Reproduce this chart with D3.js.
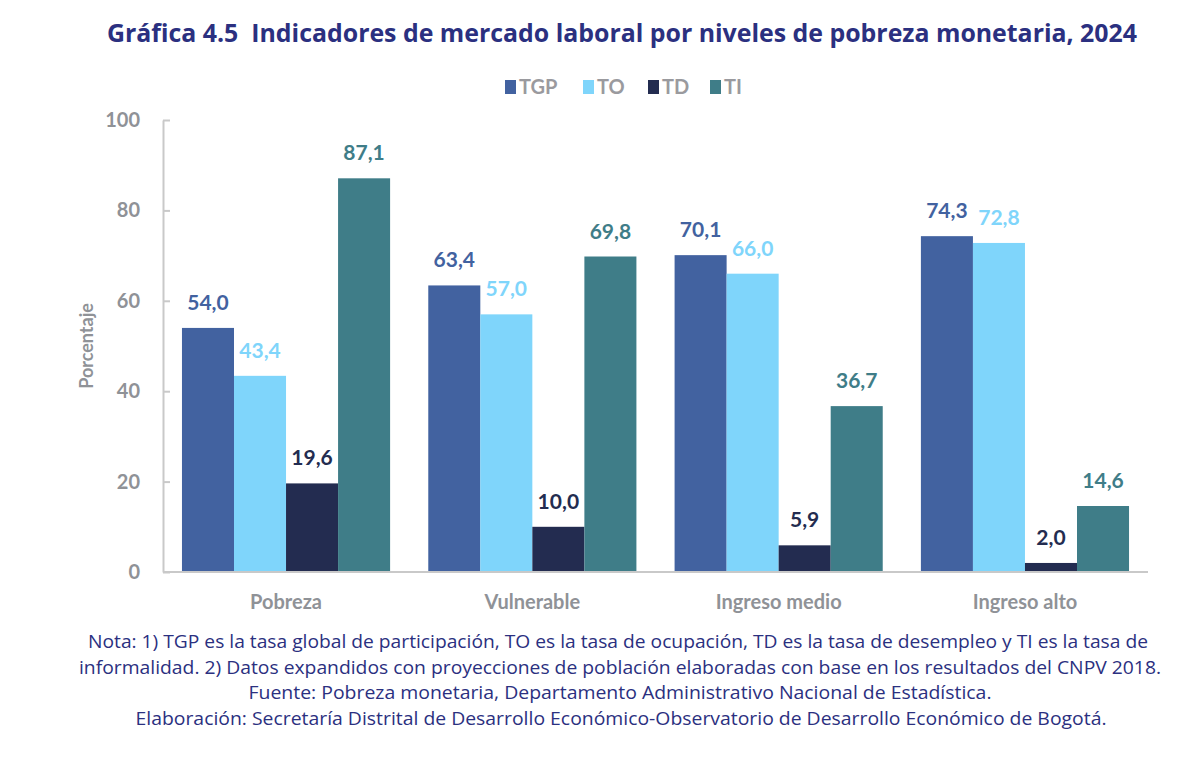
<!DOCTYPE html>
<html>
<head>
<meta charset="utf-8">
<script src="https://cdn.jsdelivr.net/npm/d3@7"></script>
<style>
  body { margin: 0; background: #fff; }
  svg { display: block; }
</style>
</head>
<body>
<div id="chart"></div>
<script>
// data
const categories = ["Pobreza", "Vulnerable", "Ingreso medio", "Ingreso alto"];
const seriesNames = ["TGP", "TO", "TD", "TI"];
const tgp = [54.0, 63.4, 70.1, 74.3];
const to = [43.4, 57.0, 66.0, 72.8];
const td = [19.6, 10.0, 5.9, 2.0];
const ti = [87.1, 69.8, 36.7, 14.6];
const yTicks = [0, 20, 40, 60, 80, 100];
const colors = ["#4262a0", "#7fd5fb", "#232c50", "#3f7d88"];

const title = "Gráfica 4.5  Indicadores de mercado laboral por niveles de pobreza monetaria, 2024";
const notes = [
  "Nota: 1) TGP es la tasa global de participación, TO es la tasa de ocupación, TD es la tasa de desempleo y TI es la tasa de",
  "informalidad. 2) Datos expandidos con proyecciones de población elaboradas con base en los resultados del CNPV 2018.",
  "Fuente: Pobreza monetaria, Departamento Administrativo Nacional de Estadística.",
  "Elaboración: Secretaría Distrital de Desarrollo Económico-Observatorio de Desarrollo Económico de Bogotá."
];

const width = 1200;
const height = 763;
const margin = { top: 120, bottom: 191, left: 163, right: 52 };

const values = [tgp, to, td, ti];
const rows = categories.map((c, i) => ({
  cat: c,
  vals: seriesNames.map((s, j) => ({ key: s, j, v: values[j][i] }))
}));

const svg = d3.select("#chart")
  .append("svg")
  .attr("width", width)
  .attr("height", height)
  .attr("viewBox", [0, 0, width, height]);

const x = d3.scaleBand()
  .domain(categories)
  .range([margin.left, width - margin.right])
  .paddingInner(0.155)
  .paddingOuter(0.077);

const xs = d3.scaleBand()
  .domain(seriesNames)
  .range([0, x.bandwidth()]);

const y = d3.scaleLinear()
  .domain([0, 100])
  .range([height - margin.bottom, margin.top]);

const textFont = "Lato, 'Open Sans', sans-serif";
const noteFont = "'Open Sans', 'Noto Sans', sans-serif";

// title
svg.append("text")
  .attr("x", 622)
  .attr("y", 42)
  .attr("text-anchor", "middle")
  .attr("font-family", noteFont)
  .attr("font-weight", 700)
  .attr("font-size", 25)
  .attr("fill", "#2b3080")
  .attr("textLength", 1030)
  .attr("lengthAdjust", "spacingAndGlyphs")
  .style("white-space", "pre")
  .text(title);

// legend
const legendX = [505, 583, 648, 710];
const legend = svg.append("g")
  .selectAll("g")
  .data(seriesNames)
  .join("g")
    .attr("transform", (d, i) => `translate(${legendX[i]}, 80)`);
legend.append("rect")
  .attr("width", 11)
  .attr("height", 14)
  .attr("fill", (d, i) => colors[i]);
legend.append("text")
  .attr("x", 14)
  .attr("y", 14)
  .attr("font-family", textFont)
  .attr("font-weight", 700)
  .attr("font-size", 20)
  .attr("fill", "#9a9a9e")
  .text(d => d);

// y axis
const yAxis = g => {
  g.attr("transform", `translate(${margin.left}, 0)`)
    .call(d3.axisLeft(y).tickValues(yTicks).tickSizeInner(-7).tickSizeOuter(0).tickPadding(23))
    .call(g => g.selectAll(".domain, .tick line").attr("stroke", "#c9c9c9").attr("stroke-width", 2))
    .call(g => g.selectAll(".tick text")
      .attr("font-family", textFont)
      .attr("font-weight", 700)
      .attr("font-size", 20)
      .attr("fill", "#8f9297"));
};
svg.append("g").call(yAxis);

// bars
const groups = svg.append("g")
  .selectAll("g")
  .data(rows)
  .join("g")
    .attr("transform", d => `translate(${x(d.cat)}, 0)`);

groups.selectAll("rect")
  .data(d => d.vals)
  .join("rect")
    .attr("x", d => xs(d.key))
    .attr("y", d => y(d.v))
    .attr("width", xs.bandwidth())
    .attr("height", d => y(0) - y(d.v))
    .attr("fill", d => colors[d.j]);

groups.selectAll("text")
  .data(d => d.vals)
  .join("text")
    .attr("x", d => xs(d.key) + xs.bandwidth() / 2)
    .attr("y", d => y(d.v) - 18)
    .attr("text-anchor", "middle")
    .attr("font-family", textFont)
    .attr("font-weight", 700)
    .attr("font-size", 21)
    .attr("fill", d => colors[d.j])
    .text(d => d.v.toFixed(1).replace(".", ","));

// x axis
const xAxis = g => {
  g.attr("transform", `translate(0, ${height - margin.bottom})`)
    .call(d3.axisBottom(x).tickSize(0).tickPadding(23))
    .call(g => g.select(".domain").attr("stroke", "#c9c9c9").attr("stroke-width", 2)
      .attr("d", `M${margin.left},0H${width - margin.right}`))
    .call(g => g.selectAll(".tick text")
      .attr("font-family", textFont)
      .attr("font-weight", 700)
      .attr("font-size", 20)
      .attr("fill", "#8f9297"));
};
svg.append("g").call(xAxis);

// y label
svg.append("text")
  .attr("transform", `translate(93, ${(y(0) + y(100)) / 2}) rotate(-90)`)
  .attr("text-anchor", "middle")
  .attr("font-family", textFont)
  .attr("font-weight", 700)
  .attr("font-size", 18)
  .attr("fill", "#8f9297")
  .text("Porcentaje");

// notes
const noteX = [618, 620, 620, 621];
const noteLen = [1060, 1082, 743, 971];
svg.append("g")
  .selectAll("text")
  .data(notes)
  .join("text")
    .attr("x", (d, i) => noteX[i])
    .attr("y", (d, i) => 648 + i * 25.5)
    .attr("text-anchor", "middle")
    .attr("font-family", noteFont)
    .attr("font-size", 19)
    .attr("fill", "#2b3080")
    .attr("textLength", (d, i) => noteLen[i])
    .attr("lengthAdjust", "spacingAndGlyphs")
    .text(d => d);
</script>
</body>
</html>
